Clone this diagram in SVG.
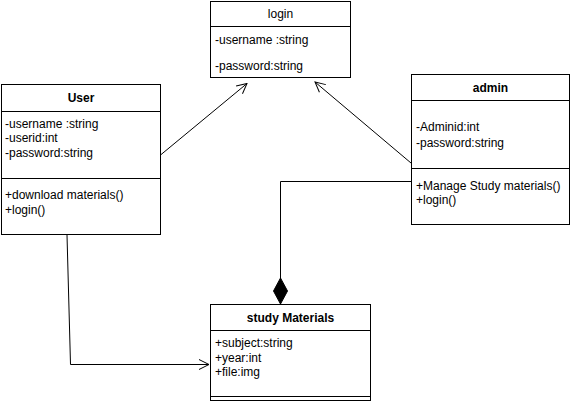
<svg xmlns="http://www.w3.org/2000/svg" width="571" height="403" viewBox="0 0 571 403">
<style>
.box{fill:#fff;stroke:#000;stroke-width:1}
.ln{stroke:#000;stroke-width:1;fill:none}
text{font-family:"Liberation Sans",Arial,sans-serif;font-size:12px;fill:#000}
.t{text-anchor:middle}
.b{font-weight:bold}
</style>
<defs>
<marker id="open" viewBox="0 0 12 12" refX="11" refY="6" markerWidth="12" markerHeight="12" markerUnits="userSpaceOnUse" orient="auto">
<path d="M1,1 L11,6 L1,11" fill="none" stroke="#000" stroke-width="1"/>
</marker>
<marker id="diamond" viewBox="0 0 28 16" refX="27" refY="8" markerWidth="28" markerHeight="16" markerUnits="userSpaceOnUse" orient="auto">
<path d="M1,8 L14,1 L27,8 L14,15 Z" fill="#000" stroke="#000"/>
</marker>
</defs>
<g id="connectors">
<path class="ln" d="M160.5,155 L247,83.5" marker-end="url(#open)"/>
<path class="ln" d="M411,163 L315,82" marker-end="url(#open)"/>
<path class="ln" d="M411,181.5 L280.5,181.5 L280.5,304" marker-end="url(#diamond)"/>
<path class="ln" d="M67,235 L70.5,364.5 L209,364.5" marker-end="url(#open)"/>
</g>
<g id="login">
<rect class="box" x="210.5" y="1.5" width="140" height="76"/>
<line class="ln" x1="210.5" y1="26.5" x2="350.5" y2="26.5"/>
<text class="t" x="280.5" y="18">login</text>
<text x="215" y="44">-username :string</text>
<text x="215" y="70">-password:string</text>
</g>
<g id="user">
<rect class="box" x="1.5" y="84.5" width="159" height="150"/>
<line class="ln" x1="1.5" y1="111.5" x2="160.5" y2="111.5"/>
<line class="ln" x1="1.5" y1="178.5" x2="160.5" y2="178.5"/>
<text class="t b" x="81" y="102">User</text>
<text x="5" y="128">-username :string</text>
<text x="5" y="142">-userid:int</text>
<text x="5" y="157">-password:string</text>
<text x="5" y="199">+download materials()</text>
<text x="5" y="214">+login()</text>
</g>
<g id="admin">
<rect class="box" x="411.5" y="74.5" width="158" height="150"/>
<line class="ln" x1="411.5" y1="100.5" x2="569.5" y2="100.5"/>
<line class="ln" x1="411.5" y1="168.5" x2="569.5" y2="168.5"/>
<text class="t b" x="490.5" y="92">admin</text>
<text x="416" y="131">-Adminid:int</text>
<text x="416" y="147">-password:string</text>
<text x="416" y="190">+Manage Study materials()</text>
<text x="416" y="204">+login()</text>
</g>
<g id="study-materials">
<rect class="box" x="210.5" y="304.5" width="160" height="96"/>
<line class="ln" x1="210.5" y1="330.5" x2="370.5" y2="330.5"/>
<line class="ln" x1="210.5" y1="396.5" x2="370.5" y2="396.5"/>
<text class="t b" x="290.5" y="322">study Materials</text>
<text x="215" y="347">+subject:string</text>
<text x="215" y="362">+year:int</text>
<text x="215" y="376">+file:img</text>
</g>
</svg>
